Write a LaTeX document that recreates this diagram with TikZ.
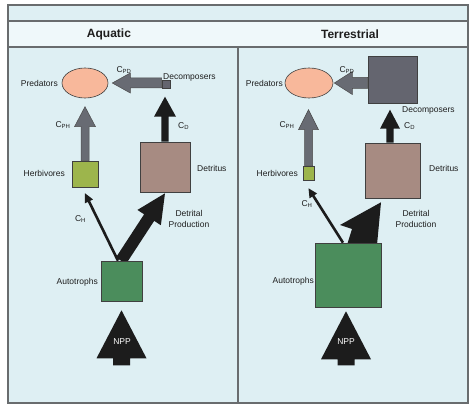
\documentclass[tikz,border=0pt]{standalone}
\usepackage{fontspec}
\setmainfont{Liberation Sans}
\usetikzlibrary{calc,shapes.geometric}
\definecolor{bodyblue}{RGB}{222,239,243}
\definecolor{headblue}{RGB}{239,248,250}
\definecolor{framec}{RGB}{105,108,110}
\definecolor{salmon}{RGB}{248,184,155}
\definecolor{herbg}{RGB}{157,181,76}
\definecolor{detb}{RGB}{167,139,130}
\definecolor{autg}{RGB}{75,141,92}
\definecolor{decg}{RGB}{100,101,111}
\definecolor{arrg}{RGB}{104,107,115}
\definecolor{arrk}{RGB}{28,28,28}
\definecolor{labtext}{RGB}{30,30,30}
\pgfdeclarelayer{bg}
\pgfdeclarelayer{arr}
\pgfsetlayers{bg,arr,main}
\newcommand\blockarrow[6]{%
  \coordinate (bah) at ($#3!#6!#2$);
  \path[#1] ($#2!#4!90:#3$) -- ($(bah)!#4!90:#3$) -- ($(bah)!#5!90:#3$) -- #3
    -- ($(bah)!#5!-90:#3$) -- ($(bah)!#4!-90:#3$) -- ($#2!#4!-90:#3$) -- cycle;
}
\begin{document}
\begin{tikzpicture}[x=1pt,y=-1pt,
  lbl/.style={font=\fontsize{8.5}{10.5}\selectfont, text=labtext, inner sep=0pt},
  hdr/.style={font=\fontsize{12}{14}\selectfont\bfseries, text=labtext, inner sep=0pt},
  boxn/.style={draw=black!75, line width=0.6pt, inner sep=0pt, rectangle},
  grayarr/.style={fill=arrg, draw=black!70, line width=0.5pt},
  blackarr/.style={fill=arrk},
  framel/.style={draw=framec, line width=1.2pt}]
\useasboundingbox (0,0) rectangle (474,409);
\begin{pgfonlayer}{bg}
\fill[white] (0,0) rectangle (474,409);
\fill[bodyblue] (8,5) rectangle (468,403);
\fill[headblue] (8,21) rectangle (468,47);
\draw[framel] (8,5) rectangle (468,403);
\draw[framel] (8,21) -- (468,21);
\draw[framel] (8,47) -- (468,47);
\draw[framel] (238,47) -- (238,403);
\end{pgfonlayer}
\node[hdr] (haq) at (109,34) {Aquatic};
\node[hdr] (hte) at (350,34) {Terrestrial};
% ---------- Aquatic ----------
\node[ellipse, draw=black!75, line width=0.6pt, fill=salmon, minimum width=46pt, minimum height=30pt, inner sep=0pt] (pred1) at (85,83) {};
\node[boxn, fill=decg, minimum width=8pt, minimum height=8pt] (dec1) at (166,84) {};
\node[boxn, fill=herbg, minimum width=26pt, minimum height=26pt] (herb1) at (85,174) {};
\node[boxn, fill=detb, minimum width=50pt, minimum height=50pt] (det1) at (165,167) {};
\node[boxn, fill=autg, minimum width=41pt, minimum height=40pt] (aut1) at (121.5,281) {};
\node[lbl, anchor=east] (lpred1) at (58,83) {Predators};
\node[lbl, anchor=west] (ldec1) at (163,77) {Decomposers};
\node[lbl] (lcpd1) at (124,70) {C\textsubscript{PD}};
\node[lbl] (lcph1) at (63,125) {C\textsubscript{PH}};
\node[lbl, anchor=east] (lherb1) at (65,173) {Herbivores};
\node[lbl, anchor=west] (ldet1) at (197,168) {Detritus};
\node[lbl, anchor=west] (lcd1) at (178,126) {C\textsubscript{D}};
\node[lbl] (lch1) at (80.5,219) {C\textsubscript{H}};
\node[lbl, align=center] (ldp1) at (189,219) {Detrital\\Production};
\node[lbl, anchor=east] (laut1) at (98,282) {Autotrophs};
\coordinate (cpd1s) at ($(dec1.west)+(0,-1)$);
\coordinate (cpd1t) at ($(pred1.east)+(4,0)$);
\coordinate (cph1t) at ($(herb1.north)+(0,-54)$);
\coordinate (cd1t) at ($(det1.north)+(0,-45)$);
\coordinate (ch1s) at ($(aut1.north)+(-3.5,0)$);
\coordinate (ch1t) at ($(herb1.south)+(0,6)$);
\coordinate (dp1s) at ($(aut1.north)+(-0.5,0)$);
\coordinate (dp1t) at ($(det1.south)+(0,1)$);
\coordinate (npp1t) at ($(aut1.south)+(0,9)$);
\coordinate (npp1b) at ($(aut1.south)+(0,64)$);
\begin{pgfonlayer}{arr}
\blockarrow{grayarr}{(cpd1s)}{(cpd1t)}{5pt}{10pt}{18pt}
\blockarrow{grayarr}{(herb1.north)}{(cph1t)}{4pt}{10.5pt}{20pt}
\blockarrow{blackarr}{(det1.north)}{(cd1t)}{3.6pt}{11pt}{20pt}
\blockarrow{blackarr}{(ch1s)}{(ch1t)}{1.3pt}{4.5pt}{9pt}
\blockarrow{blackarr}{(dp1s)}{(dp1t)}{6pt}{14pt}{29pt}
\blockarrow{blackarr}{(npp1b)}{(npp1t)}{8.5pt}{25pt}{48pt}
\end{pgfonlayer}
\node[lbl, text=white] (lnpp1) at (122,342) {NPP};
% ---------- Terrestrial ----------
\node[ellipse, draw=black!75, line width=0.6pt, fill=salmon, minimum width=48pt, minimum height=30pt, inner sep=0pt] (pred2) at (309,83) {};
\node[boxn, fill=decg, minimum width=49pt, minimum height=47pt] (dec2) at (392.5,79.5) {};
\node[boxn, fill=herbg, minimum width=11pt, minimum height=14pt] (herb2) at (308.5,173) {};
\node[boxn, fill=detb, minimum width=55pt, minimum height=55pt] (det2) at (392.5,170.5) {};
\node[boxn, fill=autg, minimum width=66pt, minimum height=64pt] (aut2) at (348,275) {};
\node[lbl, anchor=east] (lpred2) at (283,83) {Predators};
\node[lbl, anchor=west] (ldec2) at (402,110) {Decomposers};
\node[lbl] (lcpd2) at (347,70) {C\textsubscript{PD}};
\node[lbl] (lcph2) at (287,125) {C\textsubscript{PH}};
\node[lbl, anchor=east] (lherb2) at (298,173) {Herbivores};
\node[lbl, anchor=west] (ldet2) at (429,168) {Detritus};
\node[lbl, anchor=west] (lcd2) at (404,126) {C\textsubscript{D}};
\node[lbl] (lch2) at (307,204) {C\textsubscript{H}};
\node[lbl, align=center] (ldp2) at (416,219) {Detrital\\Production};
\node[lbl, anchor=east] (laut2) at (314,281) {Autotrophs};
\coordinate (cpd2s) at ($(dec2.west)+(0,3.5)$);
\coordinate (cpd2t) at ($(pred2.east)+(1,0)$);
\coordinate (cph2t) at ($(herb2.north)+(0,-56)$);
\coordinate (cd2s) at ($(det2.north)+(-2.5,0)$);
\coordinate (cd2t) at ($(cd2s)+(0,-33)$);
\coordinate (ch2s) at ($(aut2.north)+(-5,0)$);
\coordinate (ch2t) at ($(herb2.south)+(0,8)$);
\coordinate (dp2t) at ($(det2.south)+(-11.5,4)$);
\coordinate (npp2t) at ($(aut2.south)+(-2,4)$);
\coordinate (npp2b) at ($(aut2.south)+(-2,58)$);
\begin{pgfonlayer}{arr}
\blockarrow{grayarr}{(cpd2s)}{(cpd2t)}{5.5pt}{11.5pt}{18pt}
\blockarrow{grayarr}{(herb2.north)}{(cph2t)}{4pt}{10pt}{20pt}
\blockarrow{blackarr}{(cd2s)}{(cd2t)}{3.6pt}{10pt}{19pt}
\blockarrow{blackarr}{(ch2s)}{(ch2t)}{1.3pt}{4.5pt}{9pt}
\fill[arrk] (dp2t) -- (340,225) -- (352,229) -- (347,245) -- (377,245) -- cycle;
\blockarrow{blackarr}{(npp2b)}{(npp2t)}{8.5pt}{25pt}{48pt}
\end{pgfonlayer}
\node[lbl, text=white] (lnpp2) at (346,342) {NPP};
\end{tikzpicture}
\end{document}
